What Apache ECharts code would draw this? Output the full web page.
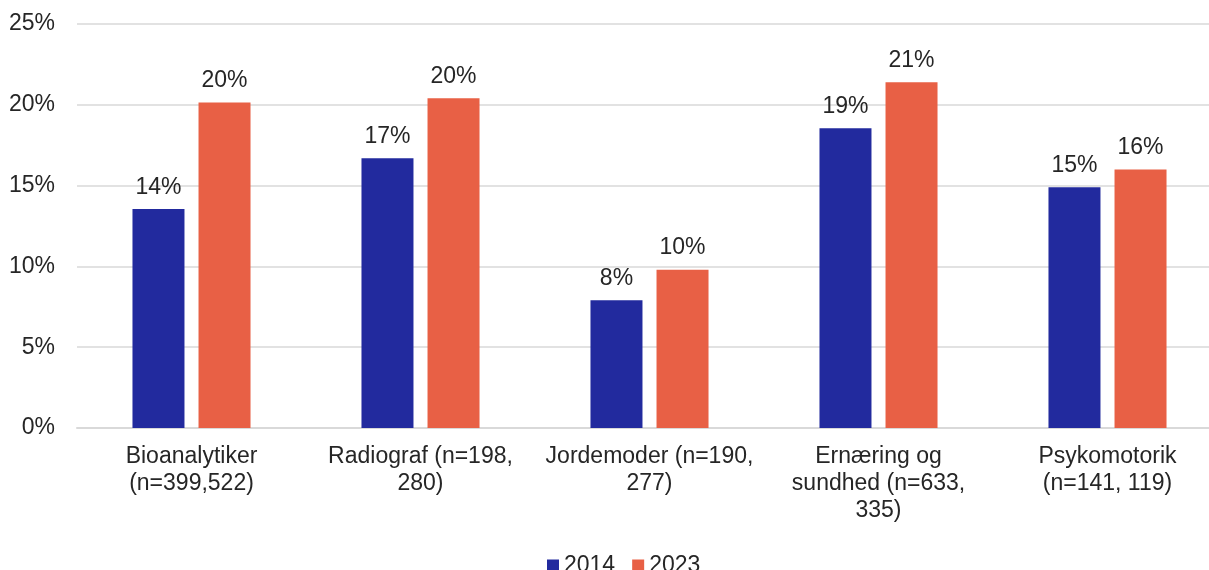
<!DOCTYPE html>
<html>
<head>
<meta charset="utf-8">
<script src="https://cdn.jsdelivr.net/npm/echarts@6/dist/echarts.min.js"></script>
<style>
  html, body { margin: 0; padding: 0; background: #fff; }
  #chart { width: 1209px; height: 570px; }
</style>
</head>
<body>
<div id="chart"></div>
<script>
const categories = [
  'Bioanalytiker\n(n=399,522)',
  'Radiograf (n=198,\n280)',
  'Jordemoder (n=190,\n277)',
  'Ernæring og\nsundhed (n=633,\n335)',
  'Psykomotorik\n(n=141, 119)'
]
const values2014 = [13.55, 16.7, 7.9, 18.55, 14.9]
const values2023 = [20.15, 20.4, 9.8, 21.4, 16.0]
const yTicks = [0, 5, 10, 15, 20, 25]

const font = 'Liberation Sans, Arial, sans-serif'
const textColor = '#262626'
const fontSize = 23

// shared label style for the value labels above the bars
const barLabel = {
  show: true,
  position: 'top',
  distance: 10,
  color: textColor,
  fontSize: fontSize,
  formatter: p => Math.round(p.value) + '%'
}

const mychart = echarts.init(document.getElementById('chart'))
mychart.setOption({
  animation: false,
  textStyle: { fontFamily: font },
  // plot area runs past the right edge, like the cropped original
  grid: {
    left: 77,
    width: 1145,
    top: 24,
    bottom: 142,
    outerBoundsMode: 'none'
  },
  legend: {
    top: 549,
    left: 542,
    itemWidth: 12,
    itemHeight: 12,
    itemGap: 17,
    icon: 'rect',
    textStyle: {
      color: textColor,
      fontSize: fontSize,
      fontFamily: font
    }
  },
  xAxis: {
    type: 'category',
    data: categories,
    axisLine: { lineStyle: { color: '#d9d9d9', width: 2 } },
    axisTick: { show: false },
    axisLabel: {
      color: textColor,
      fontSize: fontSize,
      lineHeight: 27,
      margin: 15,
      interval: 0
    }
  },
  yAxis: {
    type: 'value',
    min: yTicks[0],
    max: yTicks[yTicks.length - 1],
    interval: 5,
    axisLine: { show: false },
    axisTick: { show: false },
    splitLine: { lineStyle: { color: '#d9d9d9', width: 1.5 } },
    axisLabel: {
      color: textColor,
      fontSize: fontSize,
      margin: 22,
      formatter: '{value}%'
    }
  },
  series: [
    {
      name: '2014',
      type: 'bar',
      data: values2014,
      barWidth: 52,
      barGap: '27%',
      itemStyle: { color: '#222a9e' },
      label: barLabel
    },
    {
      name: '2023',
      type: 'bar',
      data: values2023,
      barWidth: 52,
      itemStyle: { color: '#e86045' },
      label: barLabel
    }
  ]
})
</script>
</body>
</html>
